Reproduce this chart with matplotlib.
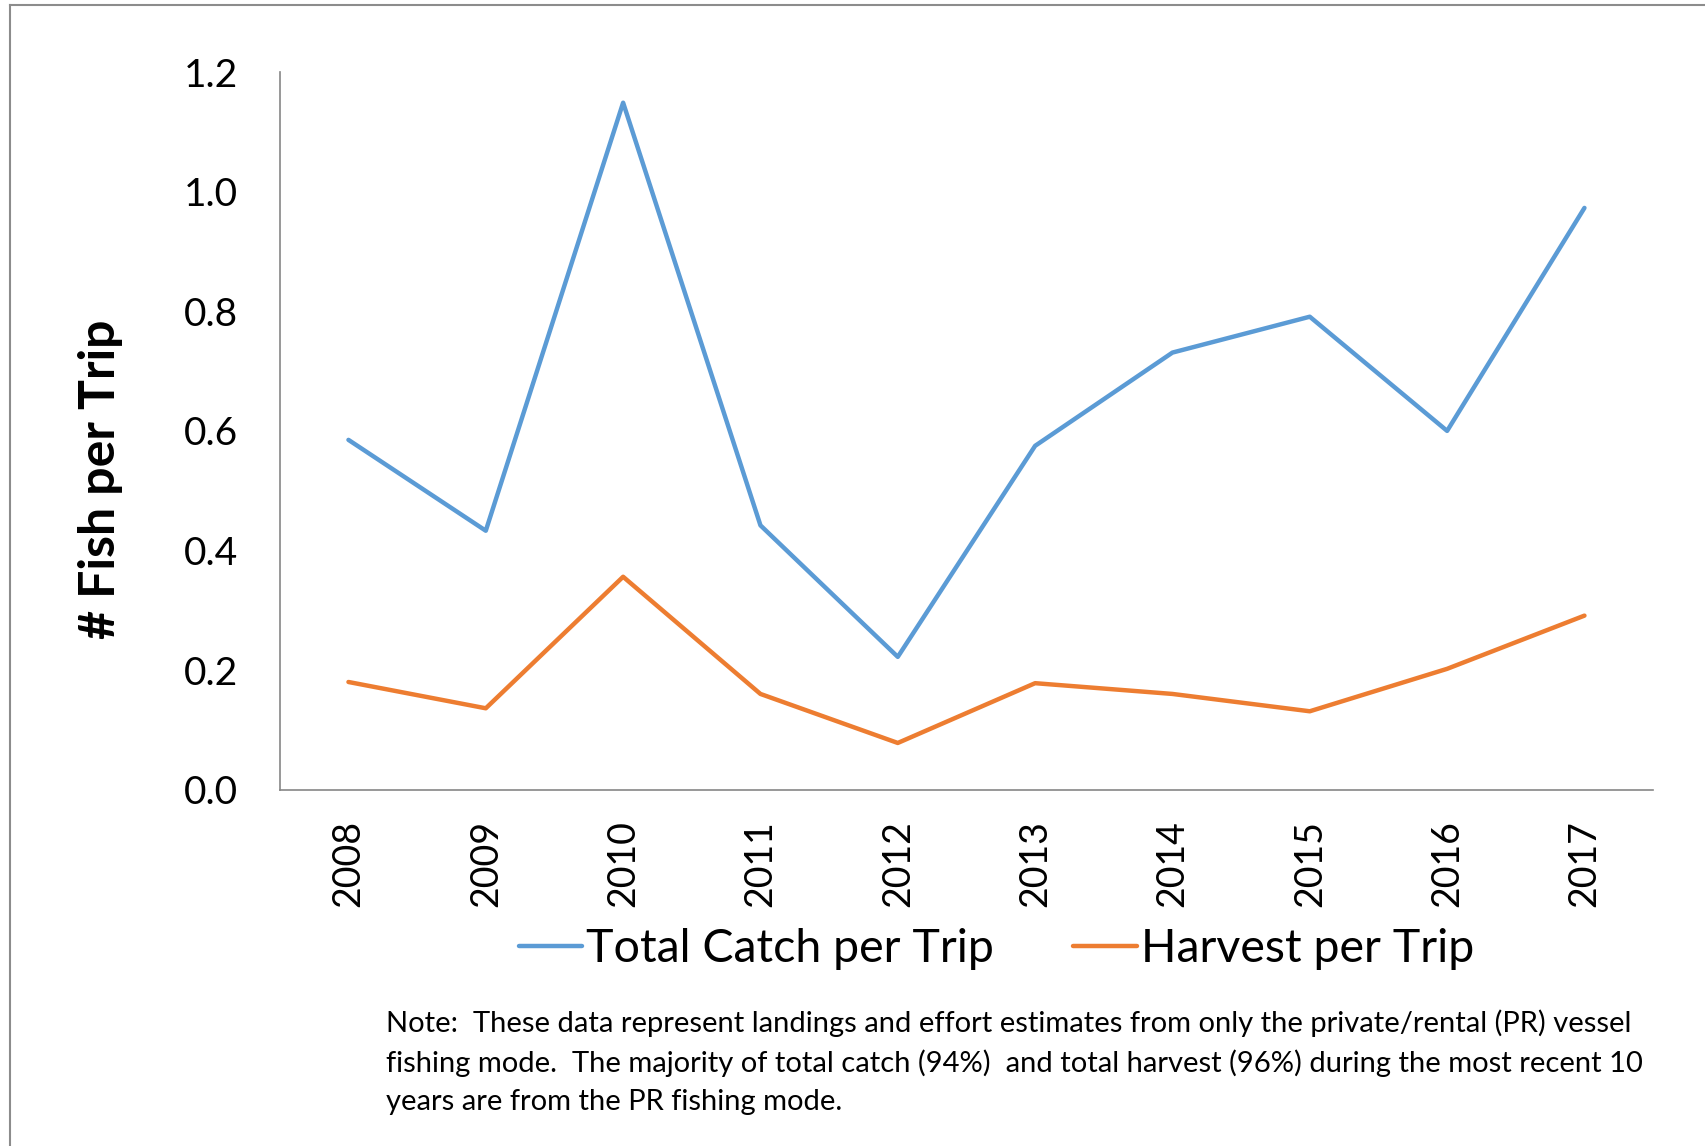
import matplotlib.pyplot as plt
from matplotlib.lines import Line2D

# data
years = ['2008', '2009', '2010', '2011', '2012', '2013', '2014', '2015', '2016', '2017']
total_catch = [0.585, 0.433, 1.149, 0.442, 0.222, 0.575, 0.731, 0.791, 0.600, 0.973]
harvest = [0.180, 0.136, 0.356, 0.160, 0.078, 0.178, 0.160, 0.131, 0.202, 0.291]
yticks = [0.0, 0.2, 0.4, 0.6, 0.8, 1.0, 1.2]

note = ('Note:  These data represent landings and effort estimates from only the private/rental (PR) vessel\n'
        'fishing mode.  The majority of total catch (94%)  and total harvest (96%) during the most recent 10\n'
        'years are from the PR fishing mode.')

plt.rcParams['font.family'] = ['Lato', 'DejaVu Sans']

fig = plt.figure(figsize=(17.06, 11.46), dpi=100)
ax = fig.add_axes([0.164, 0.311, 0.805, 0.626])

x = range(len(years))
ax.plot(x, total_catch, color='#5B9BD5', lw=3.2, label='Total Catch per Trip', solid_capstyle='round')
ax.plot(x, harvest, color='#ED7D31', lw=3.2, label='Harvest per Trip', solid_capstyle='round')

ax.set_xlim(-0.5, len(years) - 0.5)
ax.set_ylim(0, 1.2)
ax.set_yticks(yticks)
ax.set_yticklabels(['%.1f' % v for v in yticks], fontsize=28)
ax.set_xticks(list(x))
ax.set_xticklabels(years, rotation=90, fontsize=27)
ax.tick_params(length=0, pad=22)
ax.tick_params(axis='y', pad=30)

for s in ['top', 'right']:
    ax.spines[s].set_visible(False)
for s in ['left', 'bottom']:
    ax.spines[s].set_color('#868686')
    ax.spines[s].set_linewidth(1.2)

# y label sits a bit below the axes centre in the original
fig.text(0.0587, 0.582, '# Fish per Trip', fontsize=36, fontweight='bold',
         rotation=90, ha='center', va='center')

fig.legend(loc='center', bbox_to_anchor=(0.584, 0.172), ncol=2, frameon=False,
           fontsize=33.5, handlelength=1.37, handletextpad=0.08, columnspacing=1.7)

fig.text(0.226, 0.119, note, fontsize=21, va='top', ha='left', linespacing=1.55)

# outer frame (left and top edges only)
fig.add_artist(Line2D([0.006, 0.006], [0, 0.996], transform=fig.transFigure, color='#8c8c8c', lw=1.5))
fig.add_artist(Line2D([0.006, 1], [0.996, 0.996], transform=fig.transFigure, color='#8c8c8c', lw=1.5))

plt.savefig('out.png')
